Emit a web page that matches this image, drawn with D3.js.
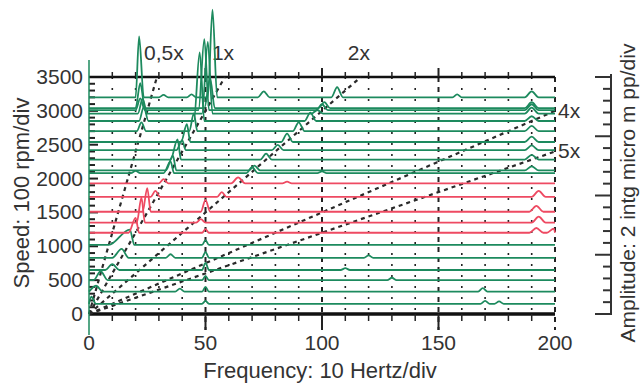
<!DOCTYPE html>
<html>
<head>
<meta charset="utf-8">
<script src="https://cdn.jsdelivr.net/npm/d3@7"></script>
<style>
  body { margin: 0; background: #fff; }
  text { font-family: "Liberation Sans", Arial, sans-serif; fill: #333; }
</style>
</head>
<body>
<div id="chart"></div>
<script>
// speed of each spectrum in the cascade (rpm)
var speeds = [150, 330, 500, 650, 830, 1020, 1200, 1350, 1510, 1730, 1930,
              2080, 2120, 2280, 2420, 2540, 2700, 2850, 2960, 3010, 3040, 3200];
// run phase of each spectrum (second group is drawn red)
var phases = ["a","a","a","a","a","a","b","b","b","b","b",
              "a","a","a","a","a","a","a","a","a","a","a"];
// peaks read per spectrum: [Hz, amplitude (micro m pp), half width left, half width right]
var peaks = [
  [[1, 1.2, 1, 2], [50, 0.5, 1.5, 1.5], [170, 0.5, 2, 2], [176, 0.4, 2, 2]],
  [[3, 1.0, 3, 3], [39, 0.5, 2, 2], [50, 0.8, 1.5, 1.5], [169, 0.6, 2, 2]],
  [[5, 1.5, 3, 3], [50, 0.7, 1.5, 1.5], [130, 0.4, 2, 2]],
  [[10, 1.0, 3, 3], [50, 1.2, 1.5, 1.5], [110, 0.3, 2, 2]],
  [[14, 1.5, 4, 3], [35, 0.6, 2, 2], [50, 1.0, 1.5, 1.5], [120, 0.4, 2, 2]],
  [[17.5, 2.6, 9, 2], [50, 0.8, 1.5, 1.5]],
  [[20, 2.5, 3, 1.5], [50, 0.6, 1.5, 1.5], [192, 0.8, 3, 3], [199.5, 0.7, 3, 0.5]],
  [[22.5, 4.2, 2, 1.5], [48, 0.6, 2, 2], [193, 1.0, 3, 3]],
  [[25, 4.0, 2, 1.5], [50, 2.0, 2, 2], [192, 1.0, 3, 3]],
  [[28.5, 1.0, 2, 2], [57, 0.8, 2, 2], [193, 1.0, 3, 3]],
  [[32, 0.7, 2, 2], [64, 1.0, 3, 3], [85, 0.3, 2, 2]],
  [[20, 0.4, 2, 2], [35, 2.0, 3, 1.5], [70, 1.0, 2.5, 2.5], [100, 0.3, 2, 2]],
  [[36, 2.5, 3, 1.5], [71, 0.8, 2.5, 2.5], [190, 0.7, 3, 3]],
  [[38, 3.4, 3, 1.5], [76, 1.0, 2.5, 2.5], [190, 0.8, 3, 3]],
  [[40, 1.7, 2.5, 1.5], [81, 0.9, 2.5, 2.5], [190, 0.8, 3, 3]],
  [[42, 3.0, 2.5, 1.5], [85, 1.4, 2.5, 2.5], [190, 0.9, 3, 3]],
  [[22.5, 1.5, 2, 2], [45, 3.0, 2, 1.5], [90, 1.5, 2.5, 2.5], [190, 0.9, 3, 3]],
  [[23.5, 2.4, 2, 2], [47.5, 11.6, 2.5, 2], [95, 1.4, 2.5, 2.5], [190, 0.8, 3, 3]],
  [[23, 2.5, 2, 2], [51, 12.1, 2.5, 2], [98, 0.6, 2.5, 2.5], [190, 1.0, 3, 3]],
  [[22, 2.0, 2, 2], [49.5, 12.0, 2.5, 2], [100, 1.0, 2.5, 2.5], [190, 1.0, 3, 3]],
  [[22, 4.2, 2, 2], [52, 5.0, 2.5, 2], [101, 1.0, 2.5, 2.5], [190, 1.0, 3, 3]],
  [[21.5, 10.3, 1.5, 2], [32, 0.4, 2, 2], [44, 0.5, 2, 2], [53, 14.8, 2, 2],
   [75, 1.0, 2.5, 2.5], [106.5, 1.7, 2.5, 2.5], [158, 0.5, 2, 2], [190, 1.0, 3, 3]]
];
var orders = [0.5, 1, 2, 4, 5];
var orderLabels = ["0,5x", "1x", "2x", "4x", "5x"];
var freqTicks = [0, 50, 100, 150, 200];
var speedTicks = [0, 500, 1000, 1500, 2000, 2500, 3000, 3500];

var W = 641, H = 383;
var svg = d3.select("#chart").append("svg").attr("width", W).attr("height", H);

var x = d3.scaleLinear().domain([0, 200]).range([89, 555]);
var y = d3.scaleLinear().domain([0, 3500]).range([314, 77]);
var amp = d3.scaleLinear().domain([0, 40]).range([0, 237]);
var colour = {a: "#1d8a5e", b: "#ee4a62"};

// vertical dotted grid every 10 Hz
var grid = svg.append("g");
d3.range(10, 201, 10).forEach(function(f) {
  var major = f % 50 == 0;
  grid.append("line").attr("x1", x(f)).attr("x2", x(f))
    .attr("y1", y(3500)).attr("y2", major ? 330 : y(0))
    .attr("stroke", "#222").attr("stroke-width", major ? 2 : 1.6)
    .attr("stroke-dasharray", major ? "5,5" : "2,9");
});

// bottom axis
svg.append("line").attr("x1", x(0)).attr("x2", x(200)).attr("y1", y(0)).attr("y2", y(0))
  .attr("stroke", "#111").attr("stroke-width", 3.5);
d3.range(10, 200, 10).forEach(function(f) {
  svg.append("line").attr("x1", x(f)).attr("x2", x(f)).attr("y1", y(0))
    .attr("y2", y(0) + (f % 50 == 0 ? 16 : 7)).attr("stroke", "#222").attr("stroke-width", f % 50 == 0 ? 2 : 1.5);
});
// top axis at 3500
svg.append("line").attr("x1", x(0)).attr("x2", x(200)).attr("y1", y(3500)).attr("y2", y(3500))
  .attr("stroke", "#111").attr("stroke-width", 2.5);
d3.range(10, 200, 10).forEach(function(f) {
  svg.append("line").attr("x1", x(f)).attr("x2", x(f)).attr("y1", y(3500))
    .attr("y2", y(3500) - (f % 50 == 0 ? 9 : 5)).attr("stroke", "#222").attr("stroke-width", f % 50 == 0 ? 2 : 1.5);
});
// small speed ticks every 100 rpm
d3.range(100, 3500, 100).forEach(function(s) {
  svg.append("line").attr("x1", x(0)).attr("x2", x(0) + (s % 500 == 0 ? 9 : 6))
    .attr("y1", y(s)).attr("y2", y(s)).attr("stroke", "#222").attr("stroke-width", 2);
});

// order lines
var orderG = svg.append("g");
orders.forEach(function(o, i) {
  var topRpm = Math.min(3500, 200 * 60 / o);
  orderG.append("line").attr("x1", x(0)).attr("y1", y(0))
    .attr("x2", x(o * topRpm / 60)).attr("y2", y(topRpm))
    .attr("stroke", "#2a2a2a").attr("stroke-width", 2.2).attr("stroke-dasharray", "4,4");
  var t = orderG.append("text").attr("font-size", 21).text(orderLabels[i]);
  if (topRpm == 3500) {
    t.attr("x", x(o * topRpm / 60) - 13).attr("y", 60).attr("text-anchor", "start");
  } else {
    t.attr("x", x(200) + 3).attr("y", y(topRpm) + 7).attr("text-anchor", "start");
  }
});

// spectra
var line = d3.line().x(function(d) { return x(d[0]); }).y(function(d) { return d[1]; })
  .curve(d3.curveMonotoneX);
speeds.forEach(function(s, i) {
  var pts = [[0, y(s)]];
  peaks[i].forEach(function(p) {
    pts.push([Math.max(0, p[0] - p[2]), y(s)]);
    pts.push([p[0], y(s) - amp(p[1])]);
    pts.push([Math.min(200, p[0] + p[3]), y(s)]);
  });
  pts.push([200, y(s)]);
  svg.append("path").attr("d", line(pts)).attr("fill", "none")
    .attr("stroke", colour[phases[i]]).attr("stroke-width", 1.8);
});

// green speed axis line
svg.append("line").attr("x1", x(0)).attr("x2", x(0)).attr("y1", 60).attr("y2", 335)
  .attr("stroke", colour.a).attr("stroke-width", 1.5);

// tick labels
speedTicks.forEach(function(s) {
  svg.append("text").attr("x", 83).attr("y", y(s) + 7).attr("text-anchor", "end")
    .attr("font-size", 21).text(s);
});
freqTicks.forEach(function(f) {
  svg.append("text").attr("x", x(f)).attr("y", 350).attr("text-anchor", "middle")
    .attr("font-size", 21).text(f);
});

// titles
svg.append("text").attr("x", 320).attr("y", 378).attr("text-anchor", "middle")
  .attr("font-size", 22).text("Frequency: 10 Hertz/div");
svg.append("text").attr("transform", "translate(29,193) rotate(-90)").attr("text-anchor", "middle")
  .attr("font-size", 22).text("Speed: 100 rpm/div");
svg.append("text").attr("transform", "translate(635,193) rotate(-90)").attr("text-anchor", "middle")
  .attr("font-size", 21).text("Amplitude: 2 intg micro m pp/div");

// amplitude ruler
var ruler = svg.append("g");
ruler.append("line").attr("x1", 611).attr("x2", 611).attr("y1", 74).attr("y2", 315)
  .attr("stroke", "#333").attr("stroke-width", 2);
d3.range(0, 41, 2).forEach(function(a) {
  var long = a % 10 == 0;
  ruler.append("line").attr("x1", long ? 595 : 603).attr("x2", 611)
    .attr("y1", y(0) - amp(a)).attr("y2", y(0) - amp(a))
    .attr("stroke", "#333").attr("stroke-width", 2);
});
</script>
</body>
</html>
